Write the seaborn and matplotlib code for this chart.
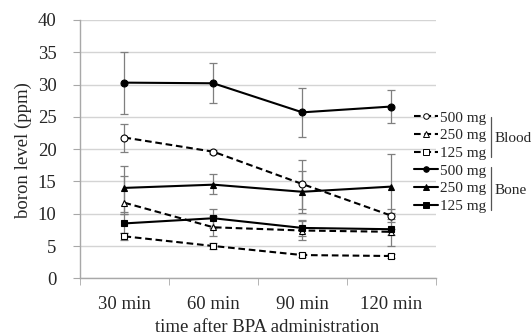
import numpy as np
import pandas as pd
import matplotlib
matplotlib.use('Agg')
import matplotlib.pyplot as plt
from matplotlib.lines import Line2D
import seaborn as sns

# data (ppm)
times = ['30 min', '60 min', '90 min', '120 min']

blood_500 = [21.8, 19.6, 14.6, 9.7]
blood_500_lo = [19.5, 19.3, 10.8, 8.7]
blood_500_hi = [23.9, 19.9, 18.3, 10.7]

blood_250 = [11.7, 7.9, 7.4, 7.2]
blood_250_lo = [10.0, 6.5, 5.9, 6.7]
blood_250_hi = [15.9, 9.6, 8.9, 7.7]

blood_125 = [6.5, 5.0, 3.6, 3.45]
blood_125_lo = [6.0, 4.5, 3.3, 3.2]
blood_125_hi = [7.0, 5.5, 3.9, 3.7]

bone_500 = [30.3, 30.2, 25.7, 26.6]
bone_500_lo = [25.5, 27.2, 21.9, 24.0]
bone_500_hi = [35.1, 33.3, 29.5, 29.1]

bone_250 = [14.0, 14.5, 13.4, 14.2]
bone_250_lo = [10.3, 13.0, 10.1, 9.2]
bone_250_hi = [17.4, 16.1, 16.6, 19.2]

bone_125 = [8.5, 9.3, 7.8, 7.6]
bone_125_lo = [7.0, 7.8, 6.6, 5.0]
bone_125_hi = [10.0, 10.8, 9.0, 10.1]

dose_labels = ['500 mg', '250 mg', '125 mg']

sns.set_style('white')
plt.rcParams['font.family'] = ['Liberation Serif', 'DejaVu Serif']

W, H = 531, 335
fig = plt.figure(figsize=(W / 100, H / 100), dpi=100)
ax = fig.add_axes([80 / W, (H - 278.3) / H, 355.7 / W, 258.3 / H])

pos = np.arange(len(times))
dash = (0, (3.2, 1.8))

series = [
    (blood_500, blood_500_lo, blood_500_hi, 'o', 'white', dash),
    (blood_250, blood_250_lo, blood_250_hi, '^', 'white', dash),
    (blood_125, blood_125_lo, blood_125_hi, 's', 'white', dash),
    (bone_500, bone_500_lo, bone_500_hi, 'o', 'black', '-'),
    (bone_250, bone_250_lo, bone_250_hi, '^', 'black', '-'),
    (bone_125, bone_125_lo, bone_125_hi, 's', 'black', '-'),
]

# error bars first, then the lines on top
for vals, lo, hi, mk, fc, ls in series:
    v = np.array(vals)
    ax.errorbar(pos, v, yerr=[v - np.array(lo), np.array(hi) - v], fmt='none',
                ecolor='#7f7f7f', elinewidth=0.9, capsize=3, capthick=0.9, zorder=2)

handles = []
for vals, lo, hi, mk, fc, ls in series:
    df = pd.DataFrame({'pos': pos, 'val': vals})
    sns.lineplot(data=df, x='pos', y='val', ax=ax, color='black', linestyle=ls,
                 linewidth=1.5, marker=mk, markersize=5, markerfacecolor=fc,
                 markeredgecolor='black', markeredgewidth=0.8, zorder=3)
    handles.append(Line2D([], [], color='black', linestyle=ls, linewidth=1.5, marker=mk,
                          markersize=4, markerfacecolor=fc, markeredgecolor='black',
                          markeredgewidth=0.7))

ax.set_xlim(-0.5, len(times) - 0.5)
ax.set_ylim(0, 40)
ax.set_yticks(np.arange(0, 41, 5))
ax.set_xticks(pos)
ax.set_xticklabels(times)
ax.set_xticks(np.arange(-0.5, len(times), 1), minor=True)
ax.yaxis.grid(True, color='#d4d4d4', linewidth=1)
ax.set_axisbelow(True)
for s in ['top', 'right']:
    ax.spines[s].set_visible(False)
for s in ['left', 'bottom']:
    ax.spines[s].set_color('#a8a8a8')
    ax.spines[s].set_linewidth(1)
ax.tick_params(axis='x', which='major', length=0, pad=13, labelsize=13.5)
ax.tick_params(axis='x', which='minor', length=5, color='#a8a8a8', direction='out', bottom=True)
ax.tick_params(axis='y', length=5, color='#a8a8a8', direction='out', left=True, pad=12, labelsize=13.5)
ax.set_xlabel('')
ax.set_ylabel('')

fig.text(23 / W, 1 - 150 / H, 'boron level (ppm)', rotation=90, ha='center', va='center', fontsize=13.5)
fig.text(267 / W, 1 - 327 / H, 'time after BPA administration', ha='center', va='center', fontsize=13.5)

leg = ax.legend(handles, dose_labels * 2, loc='upper left', bbox_to_anchor=(414 / W, 1 - 111 / H),
                bbox_transform=fig.transFigure, frameon=False, borderpad=0, fontsize=11,
                handlelength=1.6, handletextpad=0.1, labelspacing=0.26, borderaxespad=0)

# group brackets
fig.add_artist(Line2D([491 / W, 491 / W], [1 - 117 / H, 1 - 157 / H], color='#555555', linewidth=0.9))
fig.add_artist(Line2D([491 / W, 491 / W], [1 - 167 / H, 1 - 210 / H], color='#555555', linewidth=0.9))
fig.text(495 / W, 1 - 138 / H, 'Blood', ha='left', va='center', fontsize=11)
fig.text(495 / W, 1 - 190 / H, 'Bone', ha='left', va='center', fontsize=11)

fig.savefig('out.png', dpi=100)
